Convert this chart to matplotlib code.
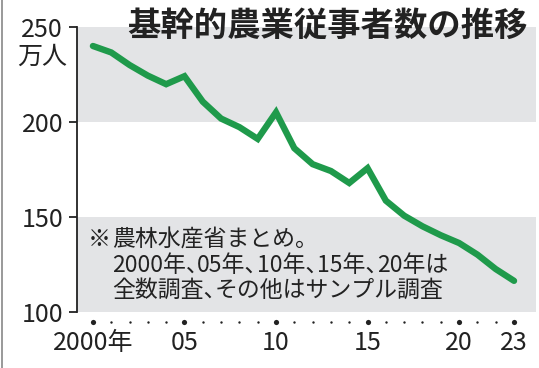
import numpy as np
import matplotlib
matplotlib.use('Agg')
import matplotlib.pyplot as plt
from matplotlib.lines import Line2D

plt.rcParams['font.family'] = ['Noto Sans CJK JP', 'DejaVu Sans']

# 基幹的農業従事者数 (万人)
years = list(range(2000, 2024))
workers = [240.0, 236.6, 230.0, 224.4, 219.9, 224.1, 210.7, 201.8, 197.3, 191.1,
           205.1, 186.2, 177.8, 174.2, 167.9, 175.7, 158.6, 150.7, 145.1, 140.4,
           136.3, 130.2, 122.6, 116.4]
label_years = [2000, 2005, 2010, 2015, 2020, 2023]
label_text = ['2000年', '05', '10', '15', '20', '23']
y_ticks = [100, 150, 200, 250]

title = '基幹的農業従事者数の推移'
note_lines = ['農林水産省まとめ。',
              '2000年、05年、10年、15年、20年は',
              '全数調査、その他はサンプル調査']

green = '#1f9a4b'
band = '#e3e4e6'
ink = '#222222'

W, H = 539, 368
fig = plt.figure(figsize=(W/100, H/100), dpi=100)
ax = fig.add_axes([77/W, 56/H, 459/W, 285/H])

ax.set_xlim(1999.13, 2024.2)
ax.set_ylim(100, 250)
ax.axhspan(100, 150, color=band, lw=0, zorder=0)
ax.axhspan(200, 250, color=band, lw=0, zorder=0)

ax.plot(years, workers, color=green, lw=4.6, solid_joinstyle='miter',
        solid_capstyle='round', zorder=3)

# year dots under the plot
trans = ax.get_xaxis_transform()
ax.scatter(years, [-0.035]*len(years), s=3, color=ink, transform=trans,
           clip_on=False, lw=0)
ax.scatter(label_years, [-0.035]*len(label_years), s=14, color=ink,
           transform=trans, clip_on=False, lw=0)

for s in ['top', 'right', 'bottom']:
    ax.spines[s].set_visible(False)
ax.spines['left'].set_color(ink)
ax.spines['left'].set_linewidth(1.3)

ax.set_yticks(y_ticks)
ax.set_yticklabels([str(v) for v in y_ticks])
ax.tick_params(axis='y', length=6, width=1.3, color=ink, pad=4,
               labelsize=18, labelcolor=ink)
ax.set_xticks(label_years)
ax.set_xticklabels(label_text)
ax.tick_params(axis='x', length=0, pad=13, labelsize=18, labelcolor=ink)

fig.text(17/W, 1 - 57/H, '万人', fontsize=18, color=ink, va='center', ha='left')

fig.text(127/W, 1 - 26/H, title, fontsize=24, fontweight='bold', color=ink,
         va='center', ha='left')

# 注記 (読点は半角幅に詰める)
fs = 16.5
half_em = 0.5 * fs * 100 / 72
renderer = fig.canvas.get_renderer()

def note_line(x, y, s):
    parts = s.split('、')
    for j, p in enumerate(parts):
        if j < len(parts) - 1:
            p = p + '、'
        t = fig.text(x / W, 1 - y / H, p, fontsize=fs, color=ink,
                     va='center', ha='left')
        bb = t.get_window_extent(renderer)
        x = bb.x1 - half_em

fig.text(88/W, 1 - 240/H, '※', fontsize=fs, color=ink, va='center', ha='left')
for i, line in enumerate(note_lines):
    note_line(112, 240 + 25*i, line)

fig.add_artist(Line2D([1.5/W, 1.5/W], [0, 1], color='#888888', lw=1.2))

fig.savefig('out.png', dpi=100)
